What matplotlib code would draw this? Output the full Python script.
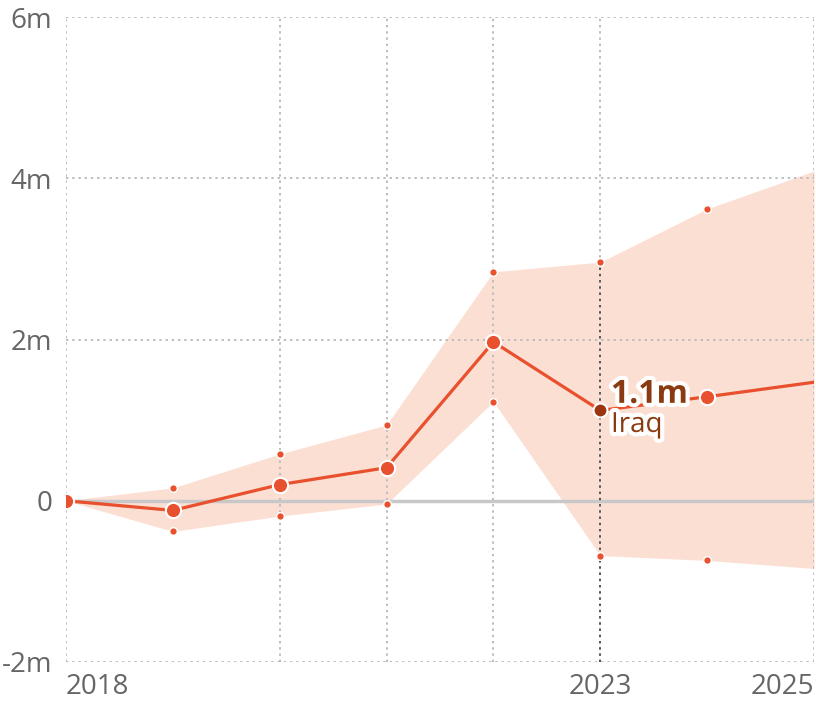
import matplotlib.pyplot as plt
import matplotlib.patheffects as pe

plt.rcParams['font.family'] = ['Open Sans', 'DejaVu Sans']

# Values in millions
years = [2018, 2019, 2020, 2021, 2022, 2023, 2024, 2025]
values = [0, -0.12, 0.20, 0.41, 1.97, 1.12, 1.29, 1.47]
upper = [0, 0.16, 0.58, 0.94, 2.84, 2.96, 3.62, 4.09]
lower = [0, -0.38, -0.19, -0.04, 1.23, -0.68, -0.74, -0.84]
yticks = [-2, 0, 2, 4, 6]
ytick_labels = ['-2m', '0', '2m', '4m', '6m']
grid_years = [2018, 2020, 2021, 2022, 2023, 2025]
highlight_year = 2023
highlight_label = '1.1m'
country = 'Iraq'

line_color = '#e8502e'
band_color = '#fcdfd3'
dark_color = '#9a3510'
grid_color = '#bdbdbd'
text_color = '#666666'

fig = plt.figure(figsize=(8.16, 7.08), dpi=100)
ax = fig.add_axes([66 / 816, 46 / 708, 748 / 816, 645 / 708])

ax.fill_between(years, lower, upper, color=band_color, lw=0, zorder=1)

# grid
for y in yticks:
    if y == 0:
        continue
    ax.axhline(y, color=grid_color, lw=1.4, ls=(0, (1.2, 2.0)), zorder=2)
for x in grid_years:
    ax.axvline(x, color=grid_color, lw=1.4, ls=(0, (1.2, 2.0)), zorder=2)
ax.axhline(0, color='#c8c8c8', lw=2.5, zorder=2)

hi = years.index(highlight_year)
ax.plot([highlight_year, highlight_year], [yticks[0], upper[hi]],
        color='#555555', lw=1.4, ls=(0, (1.2, 2.0)), zorder=3)

# bounds markers
ax.plot(years[1:-1], upper[1:-1], 'o', ms=5.5, color=line_color,
        mec='white', mew=1, zorder=4)
ax.plot(years[1:-1], lower[1:-1], 'o', ms=5.5, color=line_color,
        mec='white', mew=1, zorder=4)

# main line
ax.plot(years, values, color=line_color, lw=2.3, zorder=5)
pts = [i for i in range(len(years) - 1) if i != hi]
ax.plot([years[i] for i in pts], [values[i] for i in pts], 'o', ms=11,
        color=line_color, mec='white', mew=1.5, zorder=6)
ax.plot(years[hi], values[hi], 'o', ms=10, color=dark_color,
        mec='white', mew=1.5, zorder=7)

halo = [pe.withStroke(linewidth=6, foreground='white')]
ax.text(years[hi] + 0.1, values[hi] + 0.2, highlight_label, fontsize=23,
        fontweight='bold', color='#8a3a10', va='center', ha='left',
        path_effects=halo, zorder=8)
ax.text(years[hi] + 0.1, values[hi] - 0.18, country, fontsize=20,
        color='#8a3a10', va='center', ha='left', path_effects=halo, zorder=8)

ax.set_xlim(2018, 2025)
ax.set_ylim(-2, 6)
ax.set_yticks(yticks)
ax.set_yticklabels(ytick_labels)
ax.set_xticks([2018, 2023, 2025])
ax.set_xticklabels(['2018', '2023', '2025'])
xl = ax.get_xticklabels()
xl[0].set_ha('left')
xl[2].set_ha('right')
ax.tick_params(axis='both', length=0, labelsize=20, labelcolor=text_color)
ax.tick_params(axis='y', pad=10)
ax.tick_params(axis='x', pad=8)
for s in ax.spines.values():
    s.set_visible(False)

fig.savefig('out.png', dpi=100)
